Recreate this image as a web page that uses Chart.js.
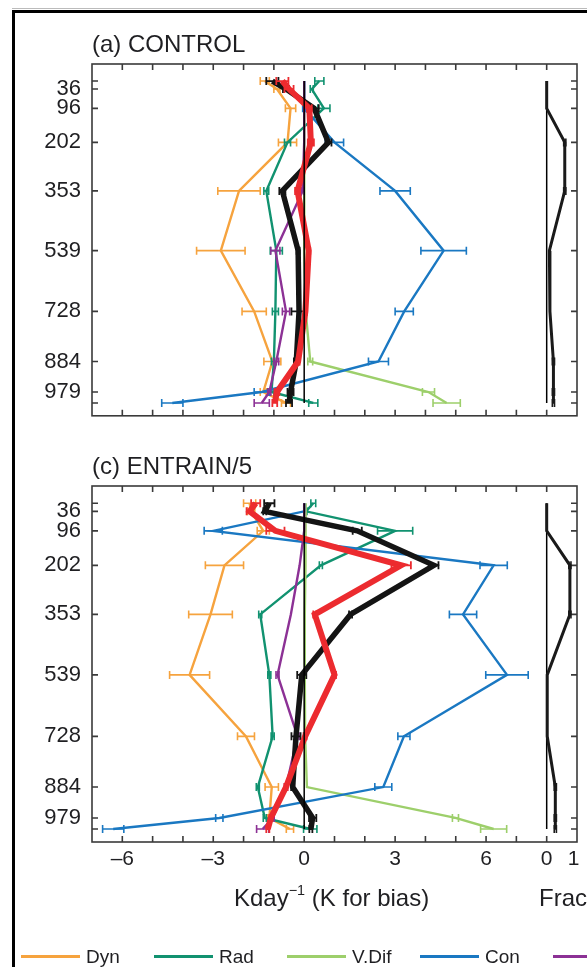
<!DOCTYPE html>
<html>
<head>
<meta charset="utf-8">
<script src="https://cdn.jsdelivr.net/npm/chart.js@4.4.1/dist/chart.umd.min.js"></script>
<style>
html, body { margin: 0; padding: 0; background: #fff; }
body { width: 587px; height: 967px; position: relative; overflow: hidden;
       font-family: "Liberation Sans", Arial, Helvetica, sans-serif; color: #1f1f22; }
.frame { position: absolute; left: 12px; top: 10px; width: 600px; height: 990px;
         border-top: 3px solid #000; border-left: 3px solid #000; }
.hair { position: absolute; left: 12px; top: 8px; width: 600px; height: 1px; background: #bbb; }
canvas.panel { position: absolute; left: 0; }
.txt { position: absolute; white-space: nowrap; line-height: 1; }
.txt sup { font-size: 0.6em; vertical-align: 0.75em; line-height: 0; }
.leg { position: absolute; top: 0; left: 0; width: 587px; height: 967px; pointer-events: none; }
.leg .ln { position: absolute; height: 3px; }
.leg .lb { position: absolute; line-height: 1; font-size: 19px; white-space: nowrap; }
</style>
</head>
<body>
<div class="hair"></div>
<div class="frame"></div>
<canvas id="pa" class="panel" width="587" height="440" style="top:0;width:587px;height:440px"></canvas>
<canvas id="pc" class="panel" width="587" height="545" style="top:422px;width:587px;height:545px"></canvas>
<div class="txt" style="left:92px;top:32px;font-size:24px">(a) CONTROL</div>
<div class="txt" style="left:92px;top:454px;font-size:24px">(c) ENTRAIN/5</div>
<div class="txt" style="left:234px;top:886px;font-size:24px">Kday<sup>−1</sup> (K for bias)</div>
<div class="txt" style="left:539px;top:886px;font-size:24px">Frac</div>
<div id="legend" class="leg"></div>
<script>
// Model levels (hPa) and the levels that carry a tick label
const levels = [11, 36, 96, 202, 353, 539, 728, 884, 979, 1013];
const levelLabels = [36, 96, 202, 353, 539, 728, 884, 979];
const xTickLabels = [-6, -3, 0, 3, 6];
const fracTickLabels = [0, 1];

const seriesNames = ['Dyn', 'Rad', 'V.Dif', 'Con', 'LS', 'Total', 'Bias'];
const seriesColors = ['#F6A33E', '#119270', '#9DCF6B', '#1A78C2', '#8C3195', '#141414', '#EC2B2F'];

// (a) CONTROL: tendency profiles (K/day) and 95% ranges (half widths)
const dynA    = [-1.3, -0.9, -0.45, -0.55, -2.15, -2.75, -1.65, -1.05, -1.35, -0.6];
const dynAErr = [0.15, 0.1, 0.17, 0.3, 0.7, 0.8, 0.4, 0.28, 0.1, 0.15];
const radA    = [0.5, 0.25, 0.65, -0.55, -1.25, -0.92, -0.95, -1.0, -1.08, 0.3];
const radAErr = [0.15, 0.05, 0.2, 0.1, 0.08, 0.2, 0.1, 0.08, 0.08, 0.15];
const vdifA    = [0, 0, 0, 0, 0, 0.02, 0.05, 0.2, 4.1, 4.7];
const vdifAErr = [0, 0, 0, 0, 0, 0, 0, 0.08, 0.2, 0.45];
const conA    = [0, 0, 0, 1.0, 3.0, 4.6, 3.3, 2.45, -1.4, -4.35];
const conAErr = [0, 0, 0.05, 0.3, 0.5, 0.75, 0.3, 0.33, 0.25, 0.35];
const lsA    = [0, 0, 0, 0, -0.05, -0.95, -0.6, -0.92, -1.15, -1.4];
const lsAErr = [0, 0, 0, 0, 0.05, 0.15, 0.12, 0.08, 0.05, 0.25];
const totalA    = [-1.05, -0.6, 0.33, 0.8, -0.72, -0.2, -0.17, -0.26, -0.45, -0.5];
const totalAErr = [0.2, 0.1, 0.15, 0.1, 0.1, 0.05, 0.25, 0.08, 0.1, 0.1];
const biasA    = [-0.72, -0.5, 0.17, 0.22, -0.22, 0.15, 0.04, -0.2, -0.9, -0.97];
const biasAErr = [0.2, 0.15, 0.08, 0.1, 0.08, 0.05, 0.05, 0.05, 0.08, 0.08];
const fracA    = [0, 0, 0, 0.67, 0.67, 0.1, 0.12, 0.25, 0.25, 0.25];
const fracAErr = [0, 0, 0, 0.04, 0.04, 0, 0, 0.04, 0.04, 0.04];

// (c) ENTRAIN/5
const dynC    = [-1.8, -1.75, -1.35, -2.63, -3.09, -3.78, -1.92, -1.07, -1.15, -0.47];
const dynCErr = [0.2, 0.12, 0.2, 0.63, 0.72, 0.66, 0.28, 0.22, 0.05, 0.12];
const radC    = [0.3, 0.06, 3.0, 0.55, -1.45, -1.15, -1.04, -1.53, -1.3, 0.2];
const radCErr = [0.08, 0.03, 0.58, 0.05, 0.05, 0.05, 0.05, 0.05, 0.05, 0.22];
const vdifC    = [0.05, 0.05, 0.05, 0.03, 0.02, 0.02, 0.03, 0.09, 4.99, 6.25];
const vdifCErr = [0, 0, 0, 0, 0, 0, 0, 0, 0.1, 0.43];
const conC    = [0, 0, -3.0, 6.25, 5.24, 6.69, 3.29, 2.61, -2.8, -6.3];
const conCErr = [0, 0, 0.3, 0.45, 0.45, 0.7, 0.2, 0.28, 0.12, 0.35];
const lsC    = [0, 0, 0, -0.15, -0.44, -0.88, -0.22, -0.6, -1.04, -1.37];
const lsCErr = [0, 0, 0, 0, 0, 0.05, 0.05, 0.05, 0.05, 0.2];
const totalC    = [-1.15, -1.3, 1.75, 4.28, 1.53, -0.08, -0.27, -0.38, 0.28, 0.22];
const totalCErr = [0.17, 0.05, 0.15, 0.15, 0.05, 0.15, 0.15, 0.05, 0.12, 0.05];
const biasC    = [-1.6, -1.8, -0.95, 3.2, 0.35, 1.0, 0.03, -0.6, -1.1, -1.2];
const biasCErr = [0.15, 0.1, 0.3, 0.32, 0.05, 0.05, 0.05, 0.05, 0.05, 0.05];
const fracC    = [0, 0, 0, 0.86, 0.86, 0.02, 0.02, 0.32, 0.32, 0.32];
const fracCErr = [0, 0, 0, 0.04, 0.04, 0, 0, 0.04, 0.04, 0.04];

const FONT = '"Liberation Sans", Arial, Helvetica, sans-serif';
const INK = '#1f1f22';
const AXIS = '#3a3a3a';

// main axis spans -7..9; the Frac strip starts at main value 8
const X_MIN = -7, X_MAX = 9, FRAC_ORIGIN = 8, FRAC_UNIT = 0.89;
const F_MIN = (X_MIN - FRAC_ORIGIN) / FRAC_UNIT, F_MAX = (X_MAX - FRAC_ORIGIN) / FRAC_UNIT;

function profile(i, vals, errs, width, order) {
  return {
    label: seriesNames[i],
    data: levels.map((p, k) => ({ x: vals[k], y: p })),
    err: errs,
    borderColor: seriesColors[i],
    backgroundColor: seriesColors[i],
    borderWidth: width,
    errWidth: 1.6,
    pointRadius: 0,
    showLine: true,
    tension: 0,
    order: order,
    xAxisID: 'x', yAxisID: 'y'
  };
}

function vline(xVal, axis, width, order) {
  return {
    label: '',
    data: [{ x: xVal, y: levels[0] }, { x: xVal, y: levels[levels.length - 1] }],
    borderColor: '#000', borderWidth: width, pointRadius: 0, showLine: true,
    order: order, xAxisID: axis, yAxisID: 'y'
  };
}

function fracLine(vals, errs) {
  return {
    label: 'Frac',
    data: levels.map((p, k) => ({ x: vals[k], y: p })),
    err: errs,
    borderColor: '#1a1a1a', borderWidth: 3, errWidth: 1.6,
    pointRadius: 0, showLine: true, tension: 0, order: 0,
    xAxisID: 'f', yAxisID: 'y'
  };
}

// horizontal uncertainty bars with end caps, drawn with their own series
const errorBars = {
  id: 'errorBars',
  afterDatasetDraw(chart, args) {
    const ds = chart.data.datasets[args.index];
    if (!ds.err) return;
    const xs = chart.scales[args.meta.xAxisID], ys = chart.scales[args.meta.yAxisID];
    const ctx = chart.ctx;
    ctx.save();
    ctx.strokeStyle = ds.borderColor;
    ctx.lineWidth = ds.errWidth || 1.6;
    ctx.beginPath();
    ds.data.forEach((p, k) => {
      const e = ds.err[k];
      if (!e) return;
      const x1 = xs.getPixelForValue(p.x - e), x2 = xs.getPixelForValue(p.x + e);
      const y = ys.getPixelForValue(p.y);
      ctx.moveTo(x1, y); ctx.lineTo(x2, y);
      ctx.moveTo(x1, y - 4); ctx.lineTo(x1, y + 4);
      ctx.moveTo(x2, y - 4); ctx.lineTo(x2, y + 4);
    });
    ctx.stroke();
    ctx.restore();
  }
};

// box around the plot with inward ticks on all four sides
const boxTicks = {
  id: 'boxTicks',
  beforeDatasetsDraw(chart) {
    const { ctx, chartArea: a, scales } = chart;
    const xs = scales.x, ys = scales.y;
    ctx.save();
    ctx.strokeStyle = AXIS;
    ctx.lineWidth = 1.6;
    ctx.strokeRect(a.left, a.top, a.right - a.left, a.bottom - a.top);
    ctx.beginPath();
    for (let v = Math.ceil(X_MIN) + 1; v < X_MAX; v++) {
      const px = xs.getPixelForValue(v);
      ctx.moveTo(px, a.top); ctx.lineTo(px, a.top + 6);
      ctx.moveTo(px, a.bottom); ctx.lineTo(px, a.bottom - 6);
    }
    levels.forEach(l => {
      const py = ys.getPixelForValue(l);
      ctx.moveTo(a.left, py); ctx.lineTo(a.left + 6, py);
      ctx.moveTo(a.right, py); ctx.lineTo(a.right - 6, py);
    });
    ctx.stroke();
    ctx.restore();
  }
};

function fmtX(v) { return v < 0 ? '\u2013' + Math.abs(v) : String(v); }

// bottom labels: the K/day ticks followed by the Frac ticks of the side strip
function bottomTicks() {
  return xTickLabels.map(v => ({ value: v }))
    .concat(fracTickLabels.map(f => ({ value: FRAC_ORIGIN + f * FRAC_UNIT })));
}
function bottomLabel(value, index) {
  const n = xTickLabels.length;
  return index < n ? fmtX(xTickLabels[index]) : String(fracTickLabels[index - n]);
}

function makePanel(id, sets, showX, bottomSpace, padBottom) {
  const datasets = [
    profile(0, sets.dyn, sets.dynErr, 2.4, 8),
    profile(1, sets.rad, sets.radErr, 2.4, 7),
    profile(2, sets.vdif, sets.vdifErr, 2.4, 6),
    profile(3, sets.con, sets.conErr, 2.4, 5),
    profile(4, sets.ls, sets.lsErr, 2.4, 4),
    profile(5, sets.total, sets.totalErr, 5.5, 3),
    profile(6, sets.bias, sets.biasErr, 6, 2),
    vline(0, 'x', 1.5, 1),
    vline(0, 'f', 1.5, 1),
    fracLine(sets.frac, sets.fracErr)
  ];
  datasets[5].errWidth = 1.8;
  datasets[6].errWidth = 1.8;
  return new Chart(document.getElementById(id), {
    type: 'scatter',
    data: { datasets },
    plugins: [errorBars, boxTicks],
    options: {
      responsive: false, animation: false, devicePixelRatio: 1,
      layout: { autoPadding: false, padding: { top: 64, right: 10, left: 0, bottom: padBottom } },
      plugins: { legend: { display: false }, tooltip: { enabled: false } },
      scales: {
        x: {
          type: 'linear', position: 'bottom', min: X_MIN, max: X_MAX, weight: 0,
          grid: { display: false, drawTicks: false, tickLength: 0 }, border: { display: false },
          afterBuildTicks: s => { s.ticks = bottomTicks(); },
          afterFit: s => { s.height = bottomSpace; },
          ticks: { display: showX, padding: 5, color: INK, font: { family: FONT, size: 21 },
                   maxRotation: 0, autoSkip: false, callback: bottomLabel }
        },
        f: {
          type: 'linear', position: 'bottom', min: F_MIN, max: F_MAX, display: false
        },
        y: {
          type: 'linear', position: 'left', reverse: true, min: -42, max: 1053,
          grid: { display: false, drawTicks: false, tickLength: 0 }, border: { display: false },
          afterBuildTicks: s => { s.ticks = levels.map(v => ({ value: v })); },
          afterFit: s => { s.width = 92; },
          ticks: { padding: 11, color: INK, font: { family: FONT, size: 22 }, autoSkip: false,
                   callback: v => (levelLabels.includes(v) ? String(v) : '') }
        }
      }
    }
  });
}

makePanel('pa', {
  dyn: dynA, dynErr: dynAErr, rad: radA, radErr: radAErr, vdif: vdifA, vdifErr: vdifAErr,
  con: conA, conErr: conAErr, ls: lsA, lsErr: lsAErr, total: totalA, totalErr: totalAErr,
  bias: biasA, biasErr: biasAErr, frac: fracA, fracErr: fracAErr
}, false, 20, 0);

makePanel('pc', {
  dyn: dynC, dynErr: dynCErr, rad: radC, radErr: radCErr, vdif: vdifC, vdifErr: vdifCErr,
  con: conC, conErr: conCErr, ls: lsC, lsErr: lsCErr, total: totalC, totalErr: totalCErr,
  bias: biasC, biasErr: biasCErr, frac: fracC, fracErr: fracCErr
}, true, 125, 0);

// legend row along the bottom of the figure
const legend = document.getElementById('legend');
seriesNames.forEach((name, i) => {
  const x0 = 21 + i * 133;
  const ln = document.createElement('div');
  ln.className = 'ln';
  ln.style.left = x0 + 'px';
  ln.style.top = '955px';
  ln.style.width = '59px';
  ln.style.background = seriesColors[i];
  legend.appendChild(ln);
  const lb = document.createElement('div');
  lb.className = 'lb';
  lb.style.left = (x0 + 65) + 'px';
  lb.style.top = '947px';
  lb.textContent = name;
  legend.appendChild(lb);
});
</script>
</body>
</html>
